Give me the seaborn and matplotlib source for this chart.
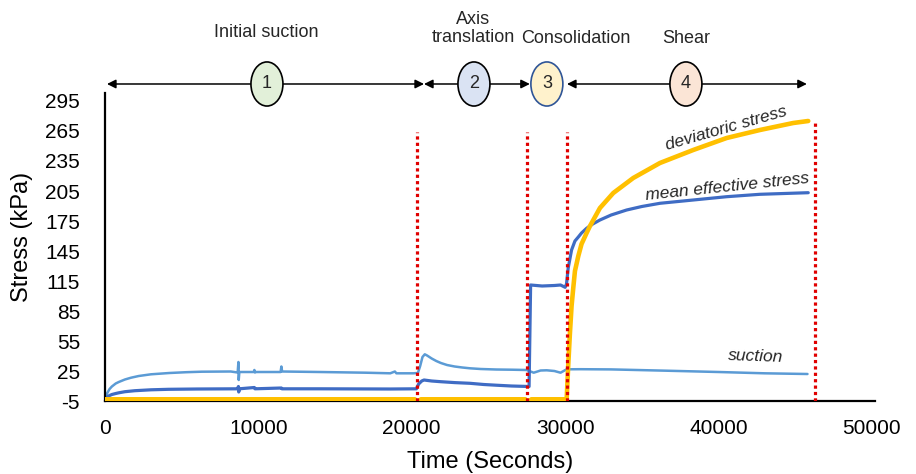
import matplotlib
matplotlib.use("Agg")
import matplotlib.pyplot as plt
import matplotlib.transforms as mtransforms
from matplotlib.patches import Ellipse
import seaborn as sns

# suction (kPa) vs time (s)
suction_t = [0, 150, 300, 450, 700, 900, 1300, 1700, 2200, 3000, 4200, 5300, 6300,
             8200, 8650, 8700, 8720, 8760, 9700, 9740, 9780, 9820, 11450, 11500,
             11550, 14000, 17000, 18600, 18900, 19000, 20100, 20400, 20550, 20700,
             20850, 21000, 21300, 21600, 21900, 22300, 22800, 23300, 23800, 24500,
             25500, 26500, 27500, 27950, 28400, 28800, 29300, 29700, 30100, 31000,
             33000, 36600, 40000, 43000, 45800]
suction_v = [-4, 3, 7, 9.5, 12.5, 14, 16.5, 18.3, 20, 21.7, 23, 23.8, 24.3,
             24.5, 23.5, 34, 16, 24, 24, 26, 23.5, 24, 24, 29.5,
             24.5, 24, 23.3, 22.7, 24.5, 22.7, 22.7, 23, 30, 39,
             41.7, 40.5, 37.5, 35, 33, 31, 29.5, 28.5, 27.7, 27,
             26.5, 26.3, 26, 23.3, 25.5, 25.7, 25, 23.3, 26.7, 26.8,
             26.6, 25.3, 24, 22.7, 22]

# mean effective stress (kPa) vs time (s)
mean_t = [0, 150, 300, 450, 700, 900, 1300, 1950, 3000, 4150, 6000, 8650, 8700,
          8720, 8760, 9740, 9780, 11500, 11540, 14000, 18600, 20300, 20450, 20650,
          20800, 21000, 21300, 21900, 22800, 23800, 24700, 25500, 26500, 27650,
          27700, 27750, 28500, 29300, 29700, 30000, 30090, 30200, 30420, 30640,
          30860, 31070, 31400, 31800, 32270, 33000, 34010, 35000, 36180, 38350,
          40530, 42700, 45850]
mean_v = [-4, -1, 0.5, 1.5, 2.5, 3.2, 4.3, 5.3, 6.2, 6.7, 7, 7.2, 9.5,
          4, 7.2, 8.5, 7.2, 8, 7.2, 7.2, 7, 7.2, 12, 15,
          16, 15.6, 15, 14.3, 13.4, 12.7, 11.5, 10.8, 10, 9.5,
          60, 111, 110, 110.5, 111, 108.7, 112, 128, 146, 155,
          159, 163, 167.7, 172, 176, 181, 186, 189.5, 192.7, 196,
          199.3, 201.7, 203.3]

# deviatoric stress (kPa) vs time (s)
dev_t = [0, 10000, 20200, 20400, 20600, 21000, 27400, 27600, 27800, 30100, 30200,
         30310, 30420, 30530, 30640, 30860, 31070, 31400, 31620, 32270, 33140,
         34440, 36180, 38350, 40530, 42700, 44870, 45850]
dev_v = [-3.3, -3.3, -3.3, -6, -3.3, -3.3, -3.3, -6, -3.3, -3.3, 30,
         62, 90, 108, 125, 140, 152, 163, 170, 188, 203,
         218, 233, 246, 258, 266, 273, 275]

# phase boundaries and their top ends
bound_t = [20340, 27500, 30120, 46290]
bound_top = [264, 264, 264, 276]

phase_labels = ["Initial suction", "Axis\ntranslation", "Consolidation", "Shear"]
phase_label_t = [10500, 24000, 30690, 37875]
phase_numbers = ["1", "2", "3", "4"]
phase_center_t = [10560, 24055, 28810, 37875]
phase_colors = ["#e2f0d9", "#dae3f3", "#fff2cc", "#fbe5d6"]
phase_edges = ["black", "black", "#2f5597", "black"]
arrow_spans = [(130, 20800), (20800, 27700), (30120, 45760)]

yticks = [-5, 25, 55, 85, 115, 145, 175, 205, 235, 265, 295]
xticks = [0, 10000, 20000, 30000, 40000, 50000]

sns.set_theme(style="white")
plt.rcParams["font.family"] = ["Liberation Sans", "DejaVu Sans"]

fig = plt.figure(figsize=(9.16, 4.74), dpi=100)
ax = fig.add_axes([0.1146, 0.154, 0.8406, 0.6498])

sns.lineplot(x=suction_t, y=suction_v, ax=ax, color="#5b9bd5", lw=1.8,
             estimator=None, sort=False, zorder=2)
sns.lineplot(x=mean_t, y=mean_v, ax=ax, color="#3f6cc4", lw=2.3,
             estimator=None, sort=False, zorder=2)
sns.lineplot(x=dev_t, y=dev_v, ax=ax, color="#ffc000", lw=3.3,
             estimator=None, sort=False, zorder=3)

ax.vlines(bound_t, -5, bound_top, colors="#e00000", linestyles=(0, (1, 1)),
          lw=2.3, zorder=4)

ax.set_xlim(0, 50200)
ax.set_ylim(-5, 303)
ax.set_xticks(xticks)
ax.set_yticks(yticks)
ax.set_xticklabels([str(v) for v in xticks])
ax.set_yticklabels([str(v) for v in yticks])
ax.tick_params(axis="both", length=0, labelsize=15, colors="black")
ax.tick_params(axis="x", pad=13)
ax.tick_params(axis="y", pad=18)

for s in ["top", "right"]:
    ax.spines[s].set_visible(False)
for s in ["left", "bottom"]:
    ax.spines[s].set_color("black")
    ax.spines[s].set_linewidth(1.6)

ax.set_xlabel("Time (Seconds)", fontsize=17, color="black")
ax.set_ylabel("Stress (kPa)", fontsize=17, color="black")
ax.xaxis.set_label_coords(0.5, -0.163)
ax.yaxis.set_label_coords(-0.094, 0.533)

# curve names
ax.text(40530, 267.7, "deviatoric stress", fontsize=12.5, style="italic",
        rotation=16, ha="center", va="center")
ax.text(40590, 209.3, "mean effective stress", fontsize=12.5, style="italic",
        rotation=6, ha="center", va="center")
ax.text(42440, 40, "suction", fontsize=12.5, style="italic",
        rotation=-2, ha="center", va="center")

# phase arrows, circles and names above the plot
trans = mtransforms.blended_transform_factory(ax.transData, fig.transFigure)
arrow_y = 0.8228
for a, b in arrow_spans:
    ax.annotate("", xy=(b, arrow_y), xytext=(a, arrow_y), xycoords=trans,
                textcoords=trans, annotation_clip=False,
                arrowprops=dict(arrowstyle="<|-|>", color="black", lw=1.1,
                                mutation_scale=13, shrinkA=0, shrinkB=0))
for xc, num, fc, ec in zip(phase_center_t, phase_numbers, phase_colors, phase_edges):
    e = Ellipse((xc, arrow_y), 2086, 0.093, transform=trans, facecolor=fc,
                edgecolor=ec, lw=1.2, clip_on=False, zorder=5)
    fig.add_artist(e)
    fig.text(xc, arrow_y, num, transform=trans, fontsize=13, ha="center",
             va="center", zorder=6)

label_y = [0.931, 0.9393, 0.918, 0.918]
for xl, yl, lab in zip(phase_label_t, label_y, phase_labels):
    fig.text(xl, yl, lab, transform=trans, fontsize=13, ha="center",
             va="center", linespacing=1.1)

fig.savefig("out.png", dpi=100)
